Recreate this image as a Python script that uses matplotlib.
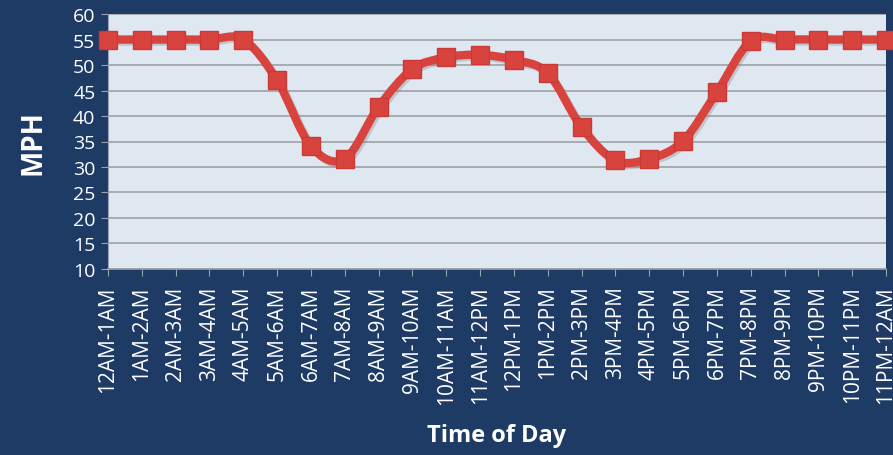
import matplotlib
matplotlib.use("Agg")
import matplotlib.pyplot as plt
import numpy as np
from matplotlib.path import Path
from matplotlib.patches import PathPatch
import matplotlib.patheffects as pe

plt.rcParams['font.family'] = ['Open Sans', 'DejaVu Sans']

time_labels = ["12AM-1AM", "1AM-2AM", "2AM-3AM", "3AM-4AM", "4AM-5AM", "5AM-6AM",
               "6AM-7AM", "7AM-8AM", "8AM-9AM", "9AM-10AM", "10AM-11AM", "11AM-12PM",
               "12PM-1PM", "1PM-2PM", "2PM-3PM", "3PM-4PM", "4PM-5PM", "5PM-6PM",
               "6PM-7PM", "7PM-8PM", "8PM-9PM", "9PM-10PM", "10PM-11PM", "11PM-12AM"]
mph = [55, 55, 55, 55, 55, 47, 34.1, 31.6, 41.8, 49.2, 51.5, 52,
       51, 48.4, 37.8, 31.3, 31.6, 35.1, 44.7, 54.7, 55, 55, 55, 55]
y_ticks = [10, 15, 20, 25, 30, 35, 40, 45, 50, 55, 60]

BG = "#1e3b66"
PLOT_BG = "#dfe7f1"
RED = "#d8433e"

fig = plt.figure(figsize=(8.93, 4.56), dpi=100, facecolor=BG)
ax = fig.add_axes([0.1209, 0.408, 0.8713, 0.559])
ax.set_facecolor(PLOT_BG)

x = np.arange(len(mph))
y = np.array(mph, dtype=float)

# smoothed line (Catmull-Rom style bezier through the data points)
verts = [(x[0], y[0])]
codes = [Path.MOVETO]
n = len(x)
for i in range(n - 1):
    p0 = np.array([x[max(i - 1, 0)], y[max(i - 1, 0)]])
    p1 = np.array([x[i], y[i]])
    p2 = np.array([x[i + 1], y[i + 1]])
    p3 = np.array([x[min(i + 2, n - 1)], y[min(i + 2, n - 1)]])
    c1 = p1 + (p2 - p0) / 6.0
    c2 = p2 - (p3 - p1) / 6.0
    verts += [tuple(c1), tuple(c2), tuple(p2)]
    codes += [Path.CURVE4] * 3
patch = PathPatch(Path(verts, codes), facecolor="none", edgecolor=RED, lw=6,
                  capstyle="round", joinstyle="round", zorder=3, clip_on=False,
                  path_effects=[pe.SimpleLineShadow(offset=(1.5, -1.5), shadow_color="#888888", alpha=0.35),
                                pe.Normal()])
ax.add_patch(patch)
ax.plot(x, y, linestyle="none", marker="s", markersize=12.5, color=RED,
        markeredgecolor="#c93a36", zorder=4, clip_on=False)

ax.set_xlim(0, n - 1)
ax.set_ylim(10, 60)
ax.set_yticks(y_ticks)
ax.set_yticklabels([str(v) for v in y_ticks])
ax.set_xticks(x)
ax.set_xticklabels(time_labels, rotation=90)

ax.grid(axis="y", color="#a3a7ad", lw=1.3, zorder=1)
ax.set_axisbelow(True)
for s in ["top", "right"]:
    ax.spines[s].set_visible(False)
ax.spines["left"].set_color("#9aa4b0")
ax.spines["bottom"].set_color("#9aa4b0")
ax.spines["bottom"].set_linewidth(1.2)

ax.tick_params(axis="y", colors="#9aa4b0", labelcolor="white", labelsize=14, length=5, pad=4)
ax.tick_params(axis="x", colors="#9aa4b0", labelcolor="white", labelsize=15, length=5, pad=7)

ax.set_ylabel("MPH", color="white", fontsize=20, fontweight="bold", labelpad=18)
ax.set_xlabel("Time of Day", color="white", fontsize=17, fontweight="bold", labelpad=14)

fig.savefig("out.png", dpi=100, facecolor=BG)
